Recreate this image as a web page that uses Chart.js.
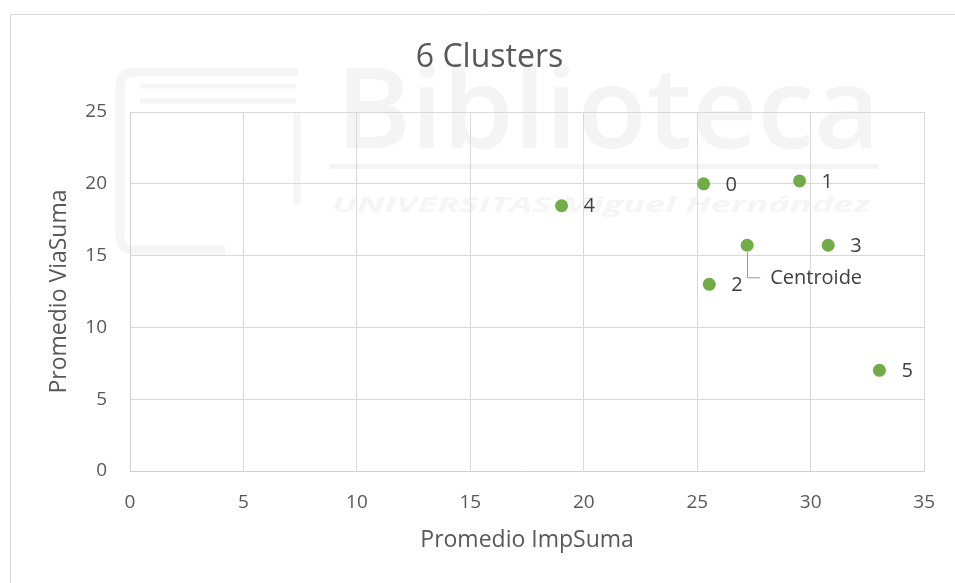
<!DOCTYPE html>
<html>
<head>
<meta charset="utf-8">
<script src="https://cdn.jsdelivr.net/npm/chart.js@4.4.1/dist/chart.umd.min.js"></script>
<style>
  html, body { margin: 0; padding: 0; background: #fff; }
  #wrap { width: 955px; height: 583px; }
</style>
</head>
<body>
<div id="wrap"><canvas id="chart" width="955" height="583"></canvas></div>
<script>
const clusterNames = ['0', '1', '2', '3', '4', '5', 'Centroide'];
const impSuma = [25.28, 29.51, 25.53, 30.77, 19.02, 33.03, 27.2];
const viaSuma = [20.0, 20.2, 13.0, 15.72, 18.47, 7.01, 15.72];

const xRange = { min: 0, max: 35, step: 5 };
const yRange = { min: 0, max: 25, step: 5 };

const textColor = '#595959';
const font = 'Open Sans';

const points = impSuma.map((x, i) => ({ x, y: viaSuma[i], name: clusterNames[i] }));

// stretch a line of text to a given width (used for the watermark)
const fitText = (ctx, text, x, y, w) => {
  const m = ctx.measureText(text).width;
  ctx.save();
  ctx.translate(x, y);
  ctx.scale(w / m, 1);
  ctx.fillText(text, 0, 0);
  ctx.restore();
};

// faint library watermark + chart frame, under everything
const background = {
  id: 'background',
  beforeDraw(chart) {
    const { ctx, width, height } = chart;
    ctx.save();
    ctx.fillStyle = '#fff';
    ctx.fillRect(0, 0, width, height);

    ctx.strokeStyle = '#f5f5f5';
    ctx.lineWidth = 9;
    ctx.beginPath();
    ctx.moveTo(298, 72);
    ctx.lineTo(135, 72);
    ctx.quadraticCurveTo(120, 72, 120, 87);
    ctx.lineTo(120, 236);
    ctx.quadraticCurveTo(120, 250, 135, 250);
    ctx.lineTo(225, 250);
    ctx.stroke();
    ctx.lineWidth = 5;
    ctx.beginPath();
    ctx.moveTo(140, 86); ctx.lineTo(296, 86);
    ctx.moveTo(140, 101); ctx.lineTo(296, 101);
    ctx.stroke();
    ctx.lineWidth = 7;
    ctx.beginPath();
    ctx.moveTo(297, 112); ctx.lineTo(297, 204);
    ctx.stroke();

    ctx.fillStyle = '#f4f4f4';
    ctx.font = `600 112px ${font}`;
    ctx.textBaseline = 'alphabetic';
    fitText(ctx, 'Biblioteca', 336, 148, 544);
    ctx.fillRect(330, 164, 548, 5);
    ctx.font = `bold italic 21px ${font}`;
    ctx.fillStyle = '#f5f5f5';
    fitText(ctx, 'UNIVERSITAS Miguel Hernández', 332, 212, 538);

    ctx.strokeStyle = '#d9d9d9';
    ctx.lineWidth = 1;
    ctx.beginPath();
    ctx.moveTo(10.5, height);
    ctx.lineTo(10.5, 14.5);
    ctx.lineTo(width, 14.5);
    ctx.stroke();
    ctx.restore();
  }
};

// data labels to the right of each point, with a leader line for the centroid
const pointLabels = {
  id: 'pointLabels',
  afterDatasetsDraw(chart) {
    const { ctx } = chart;
    const xs = chart.scales.x, ys = chart.scales.y;
    ctx.save();
    ctx.font = `20px ${font}`;
    ctx.fillStyle = '#404040';
    ctx.textBaseline = 'middle';
    ctx.textAlign = 'left';
    points.forEach(p => {
      const px = xs.getPixelForValue(p.x);
      const py = ys.getPixelForValue(p.y);
      if (p.name === 'Centroide') {
        ctx.strokeStyle = '#999999';
        ctx.lineWidth = 1;
        ctx.beginPath();
        ctx.moveTo(Math.round(px) + 0.5, py + 7);
        ctx.lineTo(Math.round(px) + 0.5, py + 32.5);
        ctx.lineTo(px + 13, py + 32.5);
        ctx.stroke();
        ctx.fillText(p.name, px + 23, py + 33);
      } else {
        ctx.fillText(p.name, px + 22, py + 1);
      }
    });
    ctx.restore();
  }
};

new Chart(document.getElementById('chart'), {
  type: 'scatter',
  data: {
    datasets: [{
      label: '6 Clusters',
      data: points,
      backgroundColor: '#70ad47',
      borderWidth: 0,
      pointRadius: 6.5,
      pointHoverRadius: 6.5
    }]
  },
  options: {
    responsive: false,
    animation: false,
    events: [],
    layout: { padding: { left: 52, right: 28, top: 0, bottom: 0 } },
    scales: {
      x: {
        type: 'linear',
        min: xRange.min,
        max: xRange.max,
        afterFit: (scale) => { scale.height = 112; },
        ticks: { stepSize: xRange.step, padding: 20, color: textColor, font: { family: font, size: 19 } },
        grid: { color: '#d9d9d9', drawTicks: false },
        border: { color: '#d0d0d0' },
        title: {
          display: true,
          text: 'Promedio ImpSuma',
          color: textColor,
          font: { family: font, size: 23 },
          padding: { top: 0, bottom: 29 }
        }
      },
      y: {
        type: 'linear',
        min: yRange.min,
        max: yRange.max,
        afterFit: (scale) => { scale.width = 78; },
        ticks: { stepSize: yRange.step, padding: 23, color: textColor, font: { family: font, size: 19 } },
        grid: { color: '#d9d9d9', drawTicks: false },
        border: { color: '#d0d0d0' },
        title: {
          display: true,
          text: 'Promedio ViaSuma',
          color: textColor,
          font: { family: font, size: 23 },
          padding: { top: -6, bottom: 0 }
        }
      }
    },
    plugins: {
      legend: { display: false },
      tooltip: { enabled: false },
      title: {
        display: true,
        text: '6 Clusters',
        color: textColor,
        font: { family: font, size: 32, weight: 'normal' },
        padding: { top: 39, bottom: 34.6 }
      }
    }
  },
  plugins: [background, pointLabels]
});
</script>
</body>
</html>
